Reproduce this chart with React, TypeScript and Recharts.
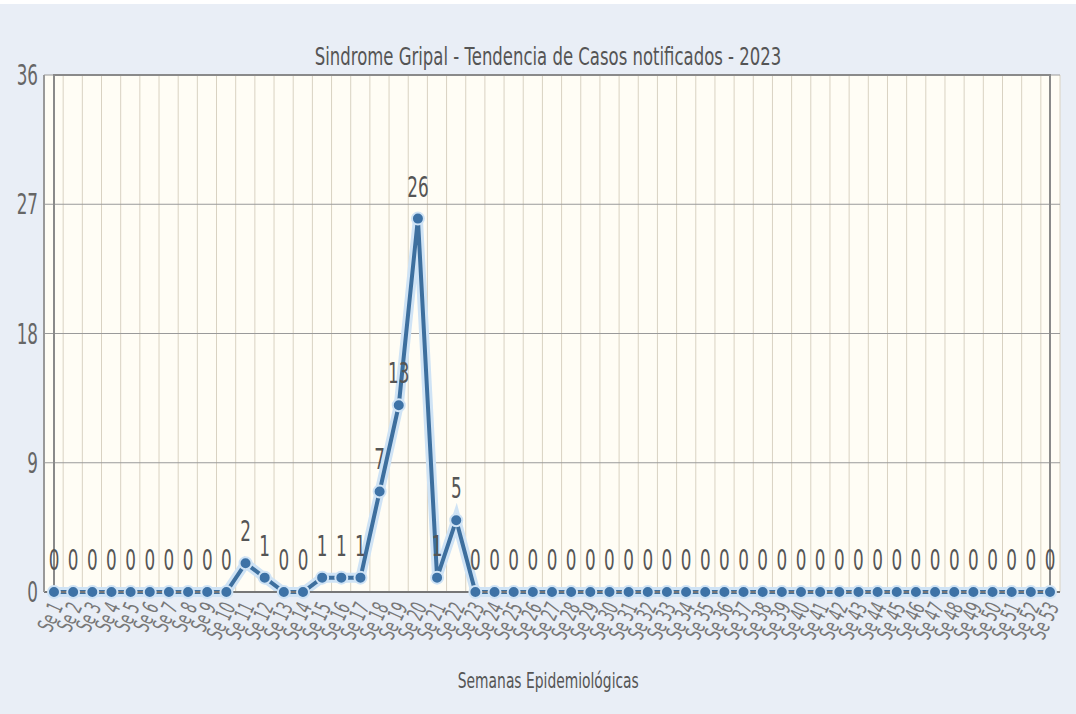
import { LineChart, Line, XAxis, YAxis, CartesianGrid, LabelList, ReferenceArea } from "recharts";

const weeks = Array.from({ length: 53 }, (_, i) => `Se ${i + 1}`);
const cases = [
  0, 0, 0, 0, 0, 0, 0, 0, 0, 0,
  2, 1, 0, 0, 1, 1, 1, 7, 13, 26,
  1, 5, 0, 0, 0, 0, 0, 0, 0, 0,
  0, 0, 0, 0, 0, 0, 0, 0, 0, 0,
  0, 0, 0, 0, 0, 0, 0, 0, 0, 0,
  0, 0, 0,
];
const yTicks = [0, 9, 18, 27, 36];

const data = weeks.map((w, i) => ({ week: w, casos: cases[i] }));

const FONT = '"DejaVu Sans", sans-serif';
const SQUEEZE = 0.6;

function WeekTick(props: any) {
  const { x, y, payload } = props;
  return (
    <g transform={`translate(${x + 3},${y + 4}) rotate(-65)`}>
      <text textAnchor="end" fill="#777" fontSize={22} fontFamily={FONT} transform={`scale(${SQUEEZE},1)`} dy={7}>
        {payload.value}
      </text>
    </g>
  );
}

function ValueTick(props: any) {
  const { x, y, payload } = props;
  return (
    <text x={0} y={0} textAnchor="end" fill="#666" fontSize={28} fontFamily={FONT}
      transform={`translate(${x + 2},${y + 10}) scale(${SQUEEZE},1)`}>
      {payload.value}
    </text>
  );
}

function PointLabel(props: any) {
  const { x, y, value } = props;
  return (
    <text x={0} y={0} textAnchor="middle" fill="#555" fontSize={28} fontFamily={FONT}
      transform={`translate(${x},${y - 22}) scale(${SQUEEZE},1)`}>
      {value}
    </text>
  );
}

export default function App() {
  return (
    <div style={{ position: "absolute", left: 0, top: 0, width: 1076, height: 714, background: "#e9eef6", overflow: "hidden" }}>
      <div style={{ position: "absolute", left: 0, top: 0, width: 1076, height: 4, background: "#fff" }} />
      <div style={{ position: "absolute", left: 0, top: 42, width: 1096, textAlign: "center", fontFamily: FONT, fontSize: 25, color: "#555", transform: "scaleX(0.66)", transformOrigin: "548px 0" }}>
        Sindrome Gripal - Tendencia de Casos notificados - 2023
      </div>
      <LineChart width={1076} height={714} data={data} margin={{ top: 75, right: 16, left: 0, bottom: 18 }}>
        <CartesianGrid
          fill="#fffdf5"
          stroke="#d9d2c2"
          horizontal={false}
          verticalCoordinatesGenerator={({ offset }: any) =>
            Array.from({ length: 54 }, (_, i) => offset.left + (i * offset.width) / 53)
          }
        />
        <CartesianGrid vertical={false} stroke="#9a9a9a" strokeWidth={1} />
        <XAxis
          dataKey="week"
          interval={0}
          height={104}
          padding={{ left: 10, right: 10 }}
          tick={<WeekTick />}
          tickLine={false}
          axisLine={{ stroke: "#777", strokeWidth: 2 }}
          label={{ value: "Semanas Epidemiológicas", position: "insideBottom", offset: 8, fill: "#555", fontSize: 21, fontFamily: FONT, transform: "translate(184,0) scale(0.66,1)" } as any}
        />
        <YAxis
          domain={[0, 36]}
          ticks={yTicks}
          width={44}
          tickLine={false}
          axisLine={{ stroke: "#999", strokeWidth: 2 }}
          tick={<ValueTick />}
        />
        <ReferenceArea y1={0} y2={36} fill="none" stroke="#8a8a8a" strokeWidth={2} />
        <Line dataKey="casos" stroke="#cfe3f5" strokeWidth={10} dot={false} isAnimationActive={false} />
        <Line
          dataKey="casos"
          stroke="#3d6f9e"
          strokeWidth={4}
          dot={{ r: 6, fill: "#3d72a6", stroke: "#cfe3f5", strokeWidth: 2 }}
          isAnimationActive={false}
        >
          <LabelList dataKey="casos" content={<PointLabel />} />
        </Line>
      </LineChart>
    </div>
  );
}
